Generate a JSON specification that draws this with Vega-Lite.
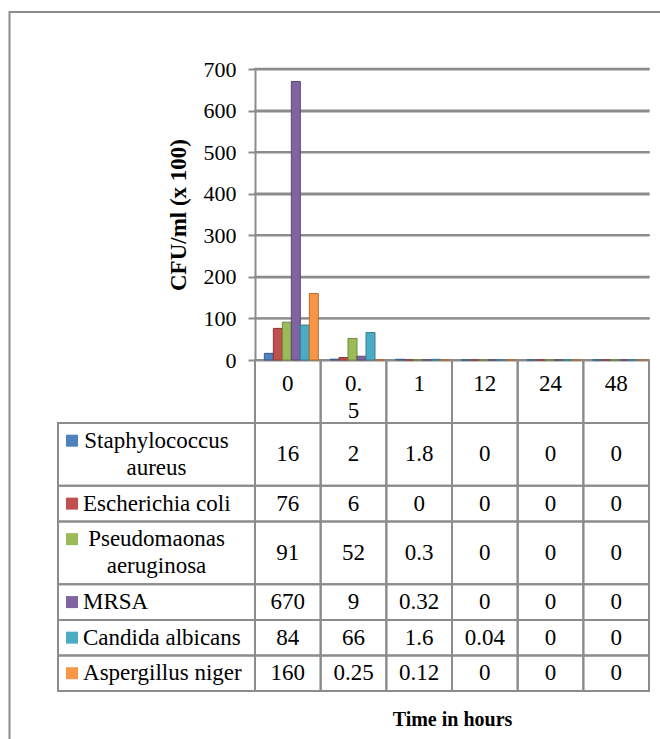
{
  "$schema": "https://vega.github.io/schema/vega-lite/v6.json",
  "width": 655,
  "height": 730,
  "autosize": {"type": "none"},
  "padding": {"left": 9.5, "top": 12, "right": 0, "bottom": 0},
  "background": "white",
  "config": {
    "view": {"stroke": "#8c8c8c", "strokeWidth": 2},
    "font": "Liberation Serif",
    "text": {"font": "Liberation Serif", "fontSize": 23, "color": "#000000"}
  },
  "datasets": {
    "gridValues": [
      {"v": 100}, {"v": 200}, {"v": 300}, {"v": 400}, {"v": 500}, {"v": 600}, {"v": 700}
    ],
    "labels": [
      {"organism": "Staphylococcus aureus", "label": "Staphylococcus\naureus"},
      {"organism": "Escherichia coli", "label": "Escherichia coli"},
      {"organism": "Pseudomaonas aeruginosa", "label": "Pseudomaonas\naeruginosa"},
      {"organism": "MRSA", "label": "MRSA"},
      {"organism": "Candida albicans", "label": "Candida albicans"},
      {"organism": "Aspergillus niger", "label": "Aspergillus niger"}
    ],
    "counts": [
      {"organism": "Staphylococcus aureus", "time": "0", "cfu": 16},
      {"organism": "Staphylococcus aureus", "time": "0.5", "cfu": 2},
      {"organism": "Staphylococcus aureus", "time": "1", "cfu": 1.8},
      {"organism": "Staphylococcus aureus", "time": "12", "cfu": 0},
      {"organism": "Staphylococcus aureus", "time": "24", "cfu": 0},
      {"organism": "Staphylococcus aureus", "time": "48", "cfu": 0},
      {"organism": "Escherichia coli", "time": "0", "cfu": 76},
      {"organism": "Escherichia coli", "time": "0.5", "cfu": 6},
      {"organism": "Escherichia coli", "time": "1", "cfu": 0},
      {"organism": "Escherichia coli", "time": "12", "cfu": 0},
      {"organism": "Escherichia coli", "time": "24", "cfu": 0},
      {"organism": "Escherichia coli", "time": "48", "cfu": 0},
      {"organism": "Pseudomaonas aeruginosa", "time": "0", "cfu": 91},
      {"organism": "Pseudomaonas aeruginosa", "time": "0.5", "cfu": 52},
      {"organism": "Pseudomaonas aeruginosa", "time": "1", "cfu": 0.3},
      {"organism": "Pseudomaonas aeruginosa", "time": "12", "cfu": 0},
      {"organism": "Pseudomaonas aeruginosa", "time": "24", "cfu": 0},
      {"organism": "Pseudomaonas aeruginosa", "time": "48", "cfu": 0},
      {"organism": "MRSA", "time": "0", "cfu": 670},
      {"organism": "MRSA", "time": "0.5", "cfu": 9},
      {"organism": "MRSA", "time": "1", "cfu": 0.32},
      {"organism": "MRSA", "time": "12", "cfu": 0},
      {"organism": "MRSA", "time": "24", "cfu": 0},
      {"organism": "MRSA", "time": "48", "cfu": 0},
      {"organism": "Candida albicans", "time": "0", "cfu": 84},
      {"organism": "Candida albicans", "time": "0.5", "cfu": 66},
      {"organism": "Candida albicans", "time": "1", "cfu": 1.6},
      {"organism": "Candida albicans", "time": "12", "cfu": 0.04},
      {"organism": "Candida albicans", "time": "24", "cfu": 0},
      {"organism": "Candida albicans", "time": "48", "cfu": 0},
      {"organism": "Aspergillus niger", "time": "0", "cfu": 160},
      {"organism": "Aspergillus niger", "time": "0.5", "cfu": 0.25},
      {"organism": "Aspergillus niger", "time": "1", "cfu": 0.12},
      {"organism": "Aspergillus niger", "time": "12", "cfu": 0},
      {"organism": "Aspergillus niger", "time": "24", "cfu": 0},
      {"organism": "Aspergillus niger", "time": "48", "cfu": 0}
    ]
  },
  "data": {"name": "counts"},
  "layer": [
    {
      "transform": [
        {"aggregate": [{"op": "count", "as": "n"}], "groupby": ["time"]}
      ],
      "mark": {"type": "rect", "filled": false, "stroke": "#8c8c8c", "strokeWidth": 2},
      "encoding": {
        "x": {"field": "time", "type": "nominal", "axis": null,
              "scale": {"type": "band", "domain": ["0", "0.5", "1", "12", "24", "48"], "range": [245.5, 639.5], "paddingInner": 0, "paddingOuter": 0}},
        "y": {"datum": 0, "type": "quantitative", "axis": null,
              "scale": {"domain": [0, 12.1], "range": [348, 679], "nice": false, "zero": false}},
        "y2": {"datum": 2.3}
      }
    },
    {
      "transform": [
        {"aggregate": [{"op": "count", "as": "n"}], "groupby": ["time"]},
        {"calculate": "replace(datum.time, '.', '.\\n')", "as": "head"}
      ],
      "mark": {"type": "text", "font": "Liberation Serif", "baseline": "top", "align": "center", "lineBreak": "\n", "lineHeight": 27},
      "encoding": {
        "x": {"field": "time", "type": "nominal", "axis": null,
              "scale": {"type": "band", "domain": ["0", "0.5", "1", "12", "24", "48"], "range": [245.5, 639.5], "paddingInner": 0, "paddingOuter": 0}},
        "y": {"datum": 0.46, "type": "quantitative", "axis": null,
              "scale": {"domain": [0, 12.1], "range": [348, 679], "nice": false, "zero": false}},
        "text": {"field": "head", "type": "nominal"}
      }
    },
    {
      "transform": [
        {"lookup": "organism", "from": {"data": {"name": "labels"}, "key": "organism", "fields": ["label"]}},
        {"calculate": "indexof(datum.label, '\\n') >= 0 ? 2 : 1", "as": "lines"},
        {"calculate": "datum.lines + 0.3", "as": "h"},
        {"window": [{"op": "sum", "field": "h", "as": "cum"}], "groupby": ["time"], "frame": [null, 0]},
        {"calculate": "2.3 + datum.cum", "as": "bottom"},
        {"calculate": "datum.bottom - datum.h", "as": "top"}
      ],
      "mark": {"type": "rect", "filled": false, "stroke": "#8c8c8c", "strokeWidth": 2},
      "encoding": {
        "x": {"field": "time", "type": "nominal",
              "scale": {"type": "band", "domain": ["0", "0.5", "1", "12", "24", "48"], "range": [245.5, 639.5], "paddingInner": 0, "paddingOuter": 0},
              "axis": {"orient": "bottom", "offset": -51, "domain": false, "ticks": false, "labels": false, "grid": false,
                       "title": "Time in hours", "titleFont": "Liberation Serif", "titleFontSize": 20, "titleFontWeight": "bold",
                       "titleColor": "#000000", "titlePadding": 18}},
        "y": {"field": "top", "type": "quantitative", "axis": null,
              "scale": {"domain": [0, 12.1], "range": [348, 679], "nice": false, "zero": false}},
        "y2": {"field": "bottom"}
      }
    },
    {
      "transform": [
        {"lookup": "organism", "from": {"data": {"name": "labels"}, "key": "organism", "fields": ["label"]}},
        {"calculate": "indexof(datum.label, '\\n') >= 0 ? 2 : 1", "as": "lines"},
        {"calculate": "datum.lines + 0.3", "as": "h"},
        {"window": [{"op": "sum", "field": "h", "as": "cum"}], "groupby": ["time"], "frame": [null, 0]},
        {"calculate": "2.3 + datum.cum - datum.h / 2", "as": "mid"}
      ],
      "mark": {"type": "text", "font": "Liberation Serif", "baseline": "middle", "align": "center"},
      "encoding": {
        "x": {"field": "time", "type": "nominal", "axis": null,
              "scale": {"type": "band", "domain": ["0", "0.5", "1", "12", "24", "48"], "range": [245.5, 639.5], "paddingInner": 0, "paddingOuter": 0}},
        "y": {"field": "mid", "type": "quantitative", "axis": null,
              "scale": {"domain": [0, 12.1], "range": [348, 679], "nice": false, "zero": false}},
        "text": {"field": "cfu", "type": "nominal"}
      }
    },
    {
      "transform": [
        {"lookup": "organism", "from": {"data": {"name": "labels"}, "key": "organism", "fields": ["label"]}},
        {"calculate": "indexof(datum.label, '\\n') >= 0 ? 2 : 1", "as": "lines"},
        {"calculate": "datum.lines + 0.3", "as": "h"},
        {"window": [{"op": "sum", "field": "h", "as": "cum"}], "groupby": ["time"], "frame": [null, 0]},
        {"filter": "datum.time === '0'"},
        {"calculate": "2.3 + datum.cum", "as": "bottom"},
        {"calculate": "datum.bottom - datum.h", "as": "top"}
      ],
      "mark": {"type": "rect", "filled": false, "stroke": "#8c8c8c", "strokeWidth": 2},
      "encoding": {
        "x": {"datum": 0, "type": "quantitative", "axis": null,
              "scale": {"domain": [0, 1], "range": [48.5, 245.5], "nice": false, "zero": false}},
        "x2": {"datum": 1},
        "y": {"field": "top", "type": "quantitative", "axis": null,
              "scale": {"domain": [0, 12.1], "range": [348, 679], "nice": false, "zero": false}},
        "y2": {"field": "bottom"}
      }
    },
    {
      "transform": [
        {"lookup": "organism", "from": {"data": {"name": "labels"}, "key": "organism", "fields": ["label"]}},
        {"calculate": "indexof(datum.label, '\\n') >= 0 ? 2 : 1", "as": "lines"},
        {"calculate": "datum.lines + 0.3", "as": "h"},
        {"window": [{"op": "sum", "field": "h", "as": "cum"}], "groupby": ["time"], "frame": [null, 0]},
        {"filter": "datum.time === '0'"},
        {"calculate": "2.3 + datum.cum - datum.h + 0.65", "as": "lead"}
      ],
      "mark": {"type": "point", "shape": "square", "filled": true, "size": 144, "opacity": 1},
      "encoding": {
        "x": {"datum": 0.071, "type": "quantitative", "axis": null,
              "scale": {"domain": [0, 1], "range": [48.5, 245.5], "nice": false, "zero": false}},
        "y": {"field": "lead", "type": "quantitative", "axis": null,
              "scale": {"domain": [0, 12.1], "range": [348, 679], "nice": false, "zero": false}},
        "color": {"field": "organism", "type": "nominal", "legend": null,
                  "scale": {"domain": ["Staphylococcus aureus", "Escherichia coli", "Pseudomaonas aeruginosa", "MRSA", "Candida albicans", "Aspergillus niger"],
                            "range": ["#4F81BD", "#C0504D", "#9BBB59", "#8064A2", "#4BACC6", "#F79646"]}}
      }
    },
    {
      "transform": [
        {"lookup": "organism", "from": {"data": {"name": "labels"}, "key": "organism", "fields": ["label"]}},
        {"calculate": "indexof(datum.label, '\\n') >= 0 ? 2 : 1", "as": "lines"},
        {"calculate": "datum.lines + 0.3", "as": "h"},
        {"window": [{"op": "sum", "field": "h", "as": "cum"}], "groupby": ["time"], "frame": [null, 0]},
        {"filter": "datum.time === '0' && datum.lines === 1"},
        {"calculate": "2.3 + datum.cum - datum.h / 2", "as": "mid"}
      ],
      "mark": {"type": "text", "font": "Liberation Serif", "baseline": "middle", "align": "left"},
      "encoding": {
        "x": {"datum": 0.127, "type": "quantitative", "axis": null,
              "scale": {"domain": [0, 1], "range": [48.5, 245.5], "nice": false, "zero": false}},
        "y": {"field": "mid", "type": "quantitative", "axis": null,
              "scale": {"domain": [0, 12.1], "range": [348, 679], "nice": false, "zero": false}},
        "text": {"field": "label", "type": "nominal"}
      }
    },
    {
      "transform": [
        {"lookup": "organism", "from": {"data": {"name": "labels"}, "key": "organism", "fields": ["label"]}},
        {"calculate": "indexof(datum.label, '\\n') >= 0 ? 2 : 1", "as": "lines"},
        {"calculate": "datum.lines + 0.3", "as": "h"},
        {"window": [{"op": "sum", "field": "h", "as": "cum"}], "groupby": ["time"], "frame": [null, 0]},
        {"filter": "datum.time === '0' && datum.lines === 2"},
        {"calculate": "2.3 + datum.cum - datum.h + 0.65", "as": "lead"}
      ],
      "mark": {"type": "text", "font": "Liberation Serif", "baseline": "middle", "align": "center", "lineBreak": "\n", "lineHeight": 27},
      "encoding": {
        "x": {"datum": 0.5, "type": "quantitative", "axis": null,
              "scale": {"domain": [0, 1], "range": [48.5, 245.5], "nice": false, "zero": false}},
        "y": {"field": "lead", "type": "quantitative", "axis": null,
              "scale": {"domain": [0, 12.1], "range": [348, 679], "nice": false, "zero": false}},
        "text": {"field": "label", "type": "nominal"}
      }
    },
    {
      "data": {"name": "gridValues"},
      "transform": [
        {"calculate": "datum.v + 1", "as": "v2"}
      ],
      "mark": {"type": "rect", "fill": "#8c8c8c", "stroke": "#8c8c8c", "strokeWidth": 1.5},
      "encoding": {
        "x": {"datum": 0, "type": "quantitative", "axis": null,
              "scale": {"domain": [0, 1], "range": [245.5, 639.5], "nice": false, "zero": false}},
        "x2": {"datum": 1},
        "y": {"field": "v", "type": "quantitative", "axis": null,
              "scale": {"domain": [0, 700], "range": [348, 57], "nice": false, "zero": true}},
        "y2": {"field": "v2"}
      }
    },
    {
      "mark": {"type": "bar", "strokeWidth": 1},
      "encoding": {
        "x": {"field": "time", "type": "nominal", "axis": null,
              "scale": {"type": "band", "domain": ["0", "0.5", "1", "12", "24", "48"], "range": [245.5, 639.5], "paddingInner": 0, "paddingOuter": 0}},
        "xOffset": {"field": "organism", "type": "nominal",
                    "scale": {"domain": ["Staphylococcus aureus", "Escherichia coli", "Pseudomaonas aeruginosa", "MRSA", "Candida albicans", "Aspergillus niger"],
                              "paddingInner": 0, "paddingOuter": 0.65, "align": 0.8}},
        "y": {"field": "cfu", "type": "quantitative",
              "scale": {"domain": [0, 700], "range": [348, 57], "nice": false, "zero": true},
              "axis": {"orient": "left", "offset": -245.5, "values": [0, 100, 200, 300, 400, 500, 600, 700],
                       "domainColor": "#8c8c8c", "domainWidth": 2, "tickColor": "#8c8c8c", "tickWidth": 2, "tickSize": 7,
                       "labelFont": "Liberation Serif", "labelFontSize": 22, "labelColor": "#000000", "labelPadding": 12,
                       "grid": true, "gridColor": "#8c8c8c", "gridWidth": 2,
                       "title": "CFU/ml (x 100)", "titleFont": "Liberation Serif", "titleFontSize": 23, "titleFontWeight": "bold",
                       "titleColor": "#000000", "titlePadding": 13}},
        "color": {"field": "organism", "type": "nominal", "legend": null,
                  "scale": {"domain": ["Staphylococcus aureus", "Escherichia coli", "Pseudomaonas aeruginosa", "MRSA", "Candida albicans", "Aspergillus niger"],
                            "range": ["#4F81BD", "#C0504D", "#9BBB59", "#8064A2", "#4BACC6", "#F79646"]}},
        "stroke": {"field": "organism", "type": "nominal", "legend": null,
                   "scale": {"domain": ["Staphylococcus aureus", "Escherichia coli", "Pseudomaonas aeruginosa", "MRSA", "Candida albicans", "Aspergillus niger"],
                             "range": ["#385D8A", "#8C3836", "#71893F", "#5C4776", "#357D91", "#B66D31"]}}
      }
    }
  ],
  "resolve": {
    "scale": {"x": "independent", "y": "independent"},
    "axis": {"x": "independent", "y": "independent"}
  }
}
